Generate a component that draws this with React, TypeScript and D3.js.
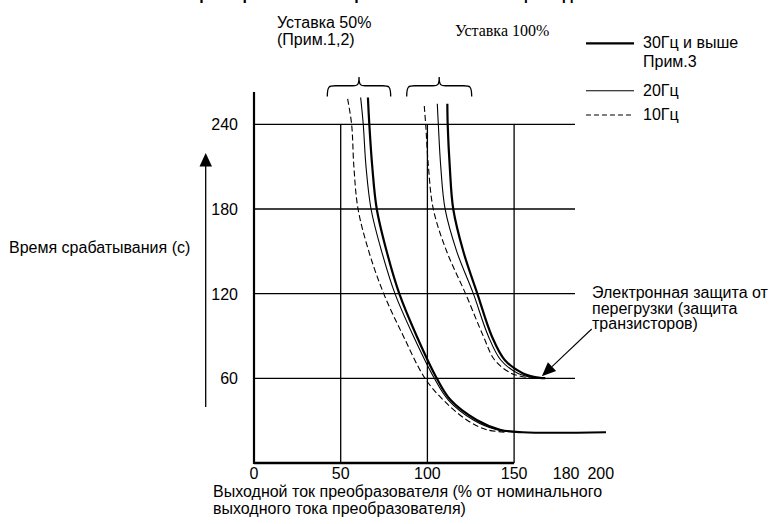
import React from 'react';
import * as d3 from 'd3';

// ---- data ----
const xTicks = [0, 50, 100, 150, 180, 200];
const yTicks = [60, 120, 180, 240];
const xGrid = [50, 100, 150];

// [output current %, trip time s]
const set50_10Hz: [number, number][] = [[54.0, 258], [56.3, 240], [57.6, 210], [60.0, 180], [66.2, 150], [74.8, 120], [86.1, 90], [98.6, 60], [109.2, 44.6], [122.7, 30.5], [134.2, 23.6], [145.7, 21.8]];
const set50_20Hz: [number, number][] = [[61.5, 259], [63.0, 240], [64.6, 210], [67.5, 180], [73.6, 150], [81.3, 120], [91.9, 90], [104.0, 60], [112.1, 44.6], [126.5, 30.5], [140.0, 23.6], [153.4, 21.8]];
const set50_30Hz: [number, number][] = [[65.7, 259], [66.5, 240], [68.2, 210], [70.8, 180], [76.5, 150], [83.8, 120], [93.8, 90], [105.4, 60], [113.4, 44.6], [128.4, 30.5], [141.9, 23.6], [155, 21.8], [203, 21.8]];

const set100_10Hz: [number, number][] = [[98.2, 253], [99.0, 240], [100.6, 210], [103.4, 180], [111.1, 150], [122.0, 120], [132.2, 90], [138.8, 73], [148.5, 63.5], [159.2, 60.3]];
const set100_20Hz: [number, number][] = [[105.7, 254.5], [106.3, 240], [107.7, 210], [110.2, 180], [116.9, 150], [126.5, 120], [135.1, 90], [142.3, 73], [152.3, 63.5], [163.0, 60.3]];
const set100_30Hz: [number, number][] = [[111.5, 254.5], [111.7, 240], [112.9, 210], [114.9, 180], [120.7, 150], [128.8, 120], [137.1, 90], [144.6, 73], [155.2, 63.5], [165, 60.3], [168, 60.2]];

const legendItems = [
  { label: ['30Гц и выше', 'Прим.3'], width: 2.2, dash: '' },
  { label: ['20Гц'], width: 1.1, dash: '' },
  { label: ['10Гц'], width: 1.1, dash: '5,3' },
];

const annotationText = ['Электронная защита от', 'перегрузки (защита', 'транзисторов)'];
const annotationPoint: [number, number] = [166, 61.5];

const W = 771;
const H = 524;
const SANS = '"Liberation Sans", Arial, sans-serif';
const SERIF = '"Liberation Serif", "Times New Roman", serif';

export default function App() {
  const x = d3.scaleLinear().domain([0, 200]).range([254, 600.8]);
  const y = d3.scaleLinear().domain([0, 240]).range([463, 124.3]);

  const line = d3
    .line<[number, number]>()
    .x((d) => x(d[0]))
    .y((d) => y(d[1]))
    .curve(d3.curveCatmullRom.alpha(0.5));

  const curves = [
    { d: set50_10Hz, w: 1.1, dash: '6,3' },
    { d: set50_20Hz, w: 1.1, dash: '' },
    { d: set50_30Hz, w: 2.2, dash: '' },
    { d: set100_10Hz, w: 1.1, dash: '6,3' },
    { d: set100_20Hz, w: 1.1, dash: '' },
    { d: set100_30Hz, w: 2.2, dash: '' },
  ];

  const brace = (x0: number, x1: number, top: number, bottom: number) => {
    const mid = (x0 + x1) / 2;
    const h = (top + bottom) / 2 - 1;
    return `M${x0},${bottom} C${x0},${h} ${x0 + 2},${h} ${x0 + 8},${h} L${mid - 6},${h} C${mid - 2},${h} ${mid},${h} ${mid},${top} C${mid},${h} ${mid + 2},${h} ${mid + 6},${h} L${x1 - 8},${h} C${x1 - 2},${h} ${x1},${h} ${x1},${bottom}`;
  };

  const tipX = x(annotationPoint[0]);
  const tipY = y(annotationPoint[1]);
  const startX = 591.7;
  const startY = 329;
  const ang = Math.atan2(tipY - startY, tipX - startX);
  const ah = 14;
  const aw = 6;
  const bx = tipX - ah * Math.cos(ang);
  const by = tipY - ah * Math.sin(ang);
  const arrowHead = `M${tipX},${tipY} L${bx + aw * Math.sin(ang)},${by - aw * Math.cos(ang)} L${bx - aw * Math.sin(ang)},${by + aw * Math.cos(ang)} Z`;

  return (
    <svg
      width={W}
      height={H}
      style={{ position: 'absolute', left: 0, top: 0, background: '#fff' }}
      fontFamily={SANS}
    >
      <rect x={0} y={0} width={W} height={H} fill="#fff" />
      {/* title, clipped at the top edge as in the reference */}
      <text x={412} y={0} textAnchor="middle" fontSize={16} fontWeight="bold" fill="#000">
        Характеристики электронной тепловой защиты двигателя
      </text>

      {/* horizontal grid */}
      {yTicks.map((t) => (
        <line key={'h' + t} x1={x(0)} x2={575} y1={y(t)} y2={y(t)} stroke="#000" strokeWidth={1.3} />
      ))}
      {/* vertical grid */}
      {xGrid.map((t) => (
        <line key={'v' + t} x1={x(t)} x2={x(t)} y1={y(240)} y2={y(0)} stroke="#000" strokeWidth={1.3} />
      ))}
      {/* axes */}
      <line x1={x(0)} x2={x(0)} y1={92} y2={y(0) + 1} stroke="#000" strokeWidth={2.2} />
      <line x1={x(0)} x2={x(150)} y1={y(0)} y2={y(0)} stroke="#000" strokeWidth={2.5} />

      {/* curves */}
      {curves.map((c, i) => (
        <path key={i} d={line(c.d) || ''} fill="none" stroke="#000" strokeWidth={c.w} strokeDasharray={c.dash || undefined} />
      ))}

      {/* x tick labels */}
      {xTicks.map((t) => (
        <text key={'xt' + t} x={x(t)} y={479} textAnchor="middle" fontSize={16}>
          {t}
        </text>
      ))}
      {/* y tick labels */}
      {yTicks.map((t) => (
        <text key={'yt' + t} x={238} y={y(t) + 6} textAnchor="end" fontSize={16}>
          {t}
        </text>
      ))}

      {/* y arrow */}
      <line x1={205.7} x2={205.7} y1={407} y2={164} stroke="#000" strokeWidth={1.3} />
      <path d="M205.7,153 L199.5,166.5 L212,166.5 Z" fill="#000" />
      <text x={9} y={253} fontSize={16}>Время срабатывания (с)</text>

      {/* x title */}
      <text x={213} y={497} fontSize={16}>Выходной ток преобразователя (% от номинального</text>
      <text x={213} y={514} fontSize={16}>выходного тока преобразователя)</text>

      {/* braces and set labels */}
      <path d={brace(327.3, 390.7, 77, 96.5)} fill="none" stroke="#000" strokeWidth={1.3} />
      <path d={brace(406.7, 471.7, 77, 96.5)} fill="none" stroke="#000" strokeWidth={1.3} />
      <text x={277} y={27.5} fontSize={16}>Уставка 50%</text>
      <text x={277} y={44.5} fontSize={16}>(Прим.1,2)</text>
      <text x={455} y={35.5} fontSize={16} fontFamily={SERIF}>Уставка 100%</text>

      {/* legend */}
      {legendItems.map((it, i) => {
        const ly = [43.3, 90.7, 115][i];
        return (
          <g key={'lg' + i}>
            <line x1={586} x2={634} y1={ly} y2={ly} stroke="#000" strokeWidth={it.width} strokeDasharray={it.dash || undefined} />
            {it.label.map((s, j) => (
              <text key={j} x={643} y={ly + 5 + j * 18.4} fontSize={16}>
                {s}
              </text>
            ))}
          </g>
        );
      })}

      {/* annotation */}
      <line x1={startX} y1={startY} x2={bx} y2={by} stroke="#000" strokeWidth={1.1} />
      <path d={arrowHead} fill="#000" />
      {annotationText.map((s, i) => (
        <text key={'an' + i} x={592} y={298 + i * 15.5} fontSize={16}>
          {s}
        </text>
      ))}
    </svg>
  );
}
